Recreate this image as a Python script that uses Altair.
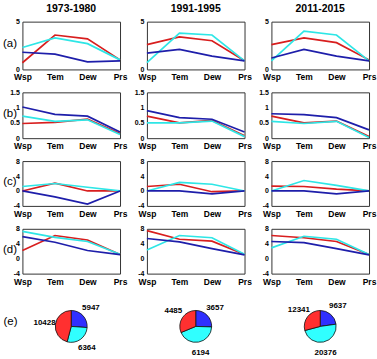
import altair as alt
import pandas as pd

FONT = "Liberation Sans Narrow, Arial Narrow, Liberation Sans, sans-serif"

variables = ["Wsp", "Tem", "Dew", "Prs"]
periods = ["1973-1980", "1991-1995", "2011-2015"]
row_labels = ["(a)", "(b)", "(c)", "(d)"]
series_names = ["red", "cyan", "blue"]

# row (a): one list per period (columns), values at Wsp, Tem, Dew, Prs
a_red = [[0.7, 3.6, 3.2, 1.0], [2.6, 3.4, 3.0, 0.9], [2.6, 3.3, 2.8, 1.0]]
a_cyan = [[2.3, 3.3, 2.7, 1.0], [0.7, 3.8, 3.6, 0.9], [0.9, 4.0, 3.6, 0.9]]
a_blue = [[1.8, 1.6, 0.8, 0.9], [1.7, 2.1, 1.4, 0.9], [1.2, 2.1, 1.4, 0.9]]

# row (b)
b_red = [[0.48, 0.52, 0.62, 0.15], [0.72, 0.50, 0.58, 0.08], [0.72, 0.50, 0.56, 0.05]]
b_cyan = [[0.72, 0.55, 0.60, 0.12], [0.50, 0.50, 0.56, 0.05], [0.55, 0.48, 0.55, 0.02]]
b_blue = [[1.02, 0.78, 0.72, 0.20], [0.90, 0.67, 0.62, 0.20], [0.80, 0.77, 0.67, 0.27]]

# row (c)
c_red = [[0.0, 2.1, 0.0, 0.0], [1.2, 1.8, -0.2, 0.0], [1.3, 1.2, 0.5, 0.0]]
c_cyan = [[1.2, 2.0, 1.0, 0.0], [0.0, 2.3, 1.8, 0.0], [0.0, 2.8, 1.5, 0.0]]
c_blue = [[0.0, -1.6, -3.5, 0.0], [0.0, 0.0, -0.8, 0.0], [0.0, 0.0, -0.8, 0.0]]

# row (d)
d_red = [[2.2, 6.2, 5.0, 1.1], [7.5, 5.2, 4.7, 1.1], [6.2, 5.6, 4.6, 1.1]]
d_cyan = [[7.3, 5.7, 4.6, 1.2], [2.3, 6.2, 5.6, 1.2], [2.9, 6.0, 5.2, 1.1]]
d_blue = [[5.9, 4.4, 2.2, 1.1], [5.4, 4.5, 2.7, 1.0], [4.6, 4.3, 2.7, 1.0]]

# row (e): pie counts per period
pie_blue = [5947, 3657, 9637]
pie_cyan = [6364, 6194, 20376]
pie_red = [10428, 4485, 12341]

y_domains = [[0, 5], [0, 1.5], [-4, 8], [-4, 8]]
y_ticks = [[0, 5], [0, 0.5, 1, 1.5], [-4, 0, 4, 8], [-4, 0, 4, 8]]

rows_data = [
    {"red": a_red, "cyan": a_cyan, "blue": a_blue},
    {"red": b_red, "cyan": b_cyan, "blue": b_blue},
    {"red": c_red, "cyan": c_cyan, "blue": c_blue},
    {"red": d_red, "cyan": d_cyan, "blue": d_blue},
]

line_colors = {"red": "#d81e1e", "cyan": "#2ee6e6", "blue": "#1e1eaa"}
pie_colors = ["#ff3030", "#30ffff", "#3030ff"]

PANEL_W = 98
row_heights = [48, 46, 45, 45]
PIE_H = 60

panels = []
for r in range(4):
    h = row_heights[r]
    for c in range(3):
        recs = []
        for s in series_names:
            for v, val in zip(variables, rows_data[r][s][c]):
                recs.append({"var": v, "value": val, "series": s})
        df = pd.DataFrame(recs)
        yaxis_kw = dict(
            values=y_ticks[r],
            labelExpr="'' + datum.value",
            ticks=False,
            domain=False,
            grid=False,
            labelFont=FONT,
            labelFontSize=7,
            labelFontWeight="bold",
            labelPadding=3,
        )
        if c == 0:
            yaxis_kw.update(
                title=row_labels[r],
                titleAngle=0,
                titleX=-13,
                titleY=h / 2 - 2,
                titleAlign="center",
                titleBaseline="middle",
                titleFont=FONT,
                titleFontSize=11.5,
                titleFontWeight="normal",
            )
        else:
            yaxis_kw.update(title="")
        base = alt.Chart(df).encode(
            x=alt.X(
                "var:N",
                sort=variables,
                scale=alt.Scale(type="point", padding=0),
                axis=alt.Axis(
                    title="",
                    labelAngle=0,
                    ticks=False,
                    domain=False,
                    grid=False,
                    labelFont=FONT,
                    labelFontSize=8.5,
                    labelFontWeight="bold",
                    labelPadding=3.5,
                ),
            ),
            y=alt.Y(
                "value:Q",
                scale=alt.Scale(domain=y_domains[r], nice=False, zero=False),
                axis=alt.Axis(**yaxis_kw),
            ),
        )
        layers = [
            base.transform_filter(alt.datum.series == s).mark_line(
                color=line_colors[s], strokeWidth=1.7
            )
            for s in series_names
        ]
        props = dict(width=PANEL_W, height=h)
        if r == 0:
            props["title"] = alt.TitleParams(
                text=periods[c],
                font=FONT,
                fontSize=10.5,
                fontWeight="bold",
                offset=3,
            )
        panels.append(alt.layer(*layers).properties(**props))

for c in range(3):
    pdf = pd.DataFrame(
        {
            "series": ["blue", "cyan", "red"],
            "count": [pie_blue[c], pie_cyan[c], pie_red[c]],
            "k": [0, 1, 2],
        }
    )
    theta = alt.Theta("count:Q", stack=True)
    order = alt.Order("k:Q")
    arc = alt.Chart(pdf).mark_arc(outerRadius=16, stroke="#111", strokeWidth=0.8).encode(
        theta=theta,
        order=order,
        color=alt.Color(
            "series:N",
            scale=alt.Scale(domain=["red", "cyan", "blue"], range=pie_colors),
            legend=None,
        ),
    )
    txt = alt.Chart(pdf).mark_text(
        radius=27, font=FONT, fontSize=8, fontWeight="bold", color="black"
    ).encode(theta=theta, order=order, text=alt.Text("count:Q", format="d"))
    layers = [arc, txt]
    if c == 0:
        lab = alt.Chart(pd.DataFrame({"t": ["(e)"]})).mark_text(
            font=FONT, fontSize=11.5, color="black"
        ).encode(text="t:N", x=alt.value(-12), y=alt.value(PIE_H / 2 - 4))
        layers.append(lab)
    panels.append(
        alt.layer(*layers).properties(
            width=PANEL_W, height=PIE_H, view=alt.ViewBackground(stroke="transparent")
        )
    )

chart = (
    alt.concat(*panels, columns=3, spacing={"row": 23, "column": 27}, bounds="flush")
    .properties(padding={"left": 1.5, "top": 3, "right": 0, "bottom": 0}, background="white")
    .configure_view(stroke="#333333", strokeWidth=1)
)

chart.save("out.html", embed_options={"renderer": "svg", "actions": False})
